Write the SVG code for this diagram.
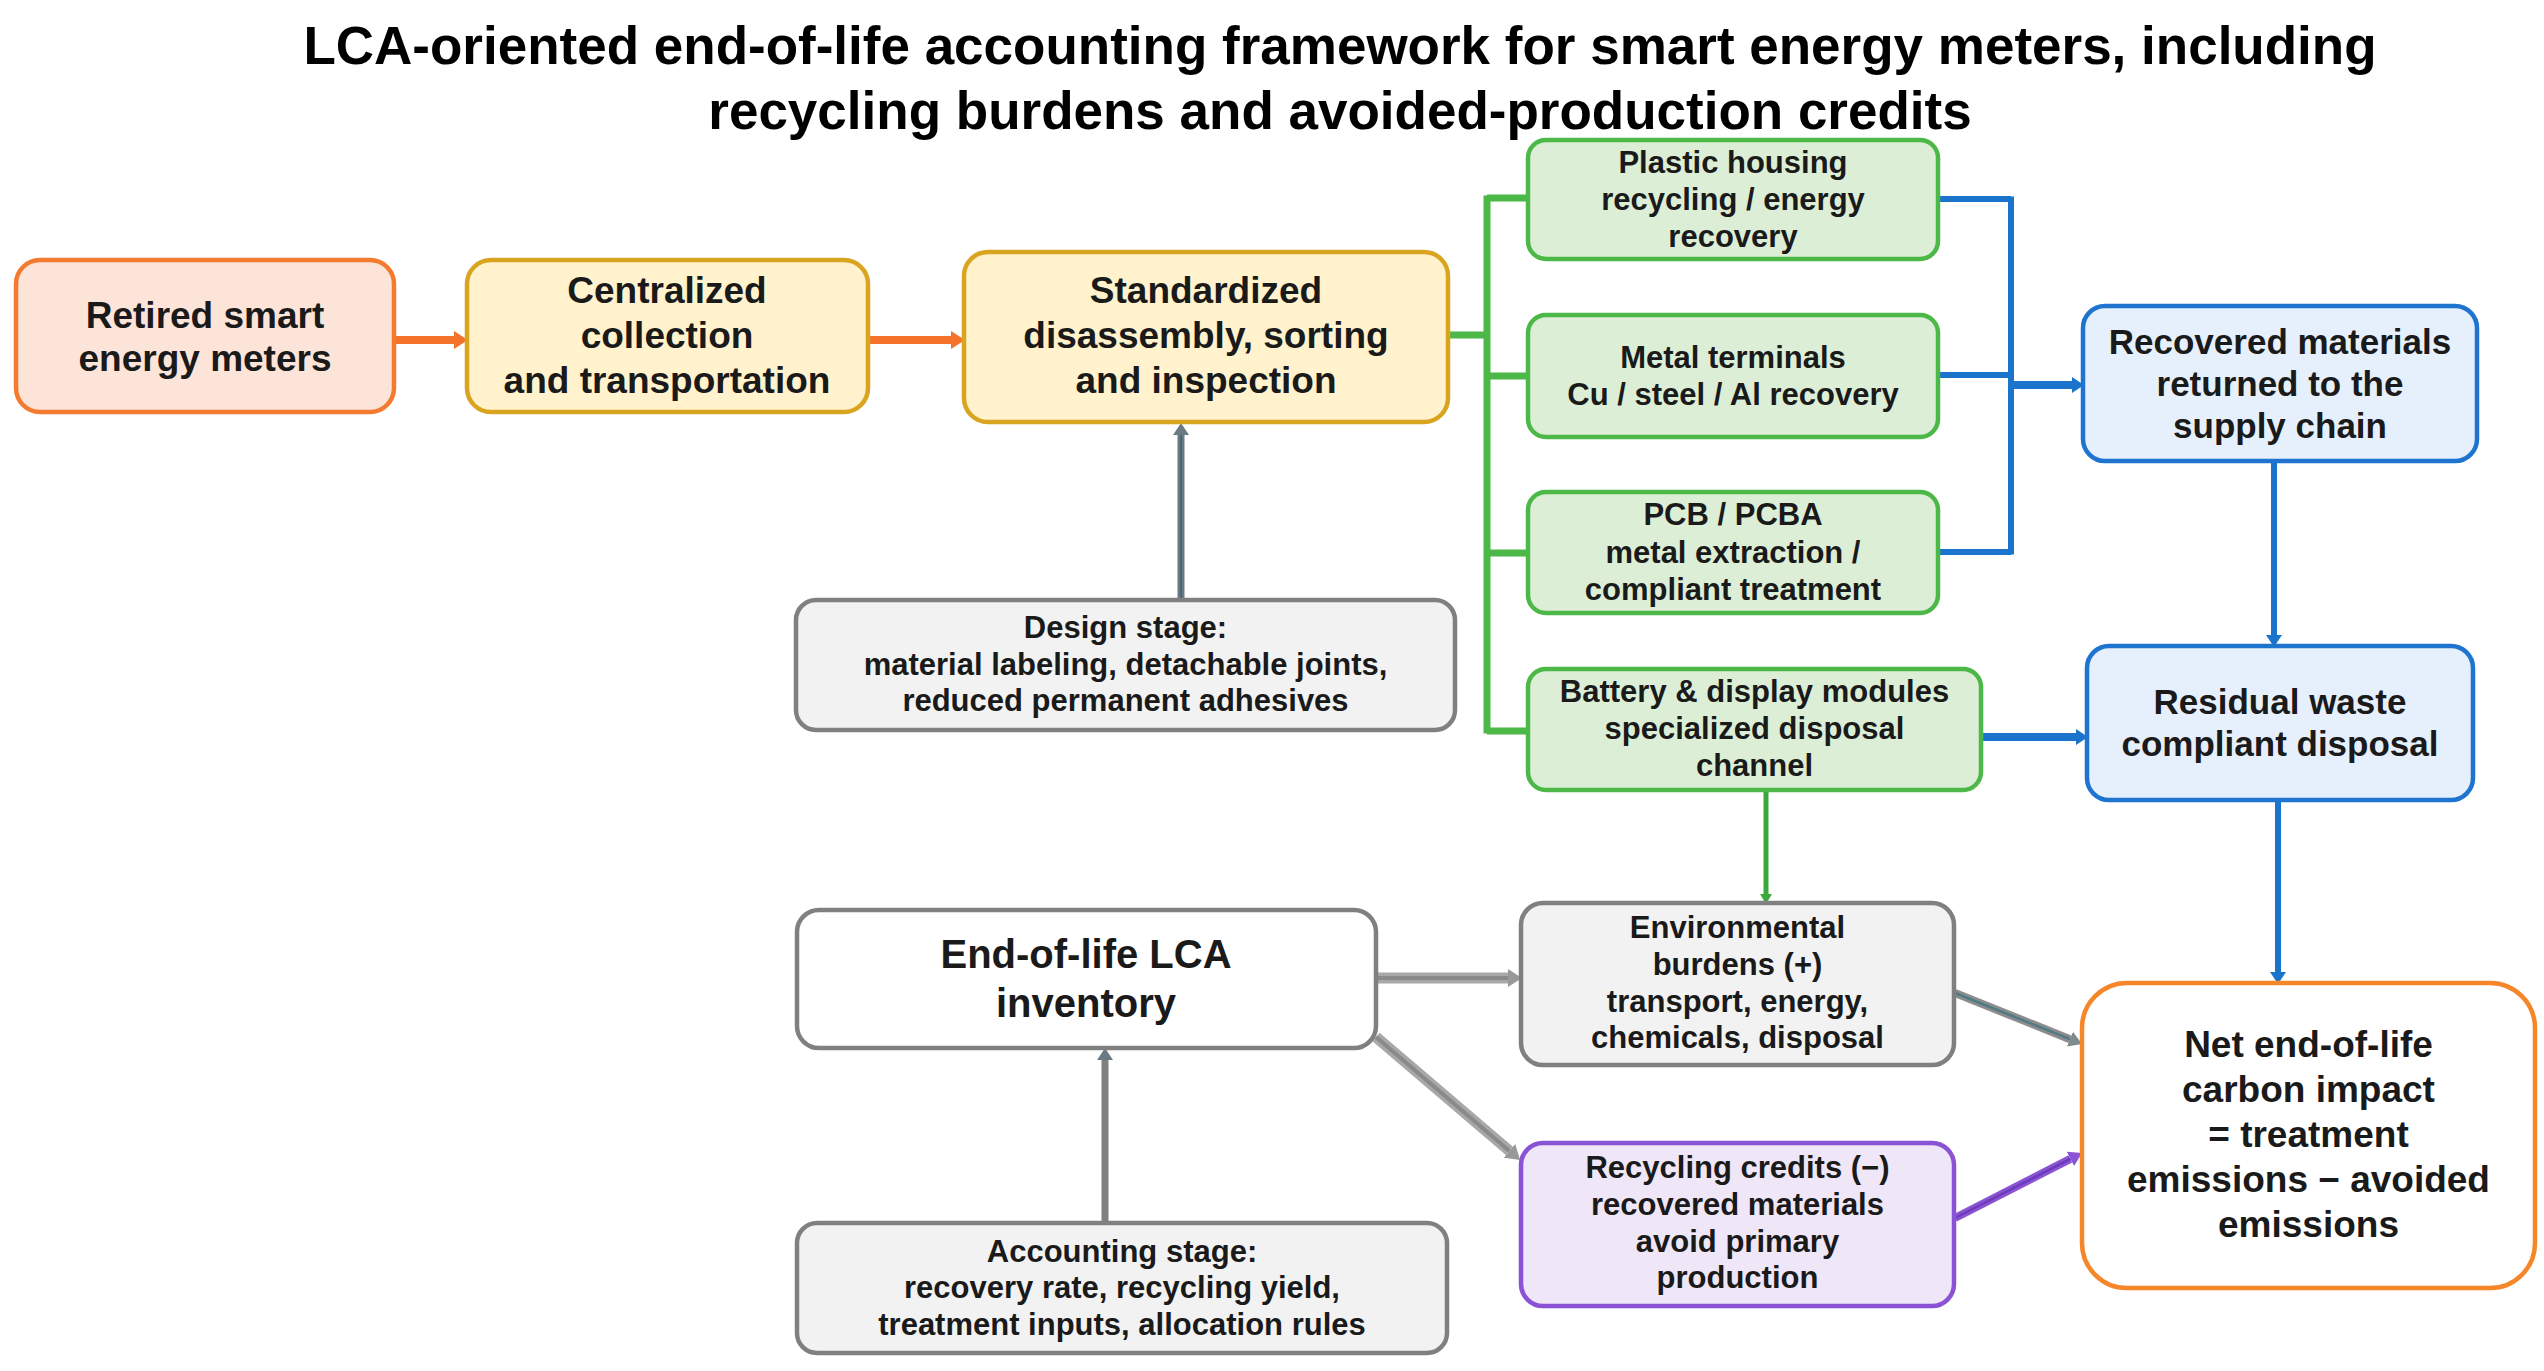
<svg xmlns="http://www.w3.org/2000/svg" width="2544" height="1371" viewBox="0 0 2544 1371">
<style>
text{font-family:"Liberation Sans",Arial,sans-serif;font-weight:bold;fill:#1a1a1a;text-anchor:middle}
.title{font-size:53px;fill:#000}
.t37{font-size:37px}
.t35{font-size:35px}
.t31{font-size:31px}
.t40{font-size:40px}
.box{stroke-width:4.5}
.orange{fill:#fde4d9;stroke:#f47a2f}
.yellow{fill:#fff2cc;stroke:#d9a520}
.green{fill:#dcefd6;stroke:#4cb848}
.blue{fill:#e6f0fc;stroke:#1f74d0}
.grey{fill:#f2f2f2;stroke:#808080}
.white{fill:#ffffff;stroke:#808080}
.purple{fill:#efe6f8;stroke:#8a52d4}
.net{fill:#ffffff;stroke:#f5862a}
.c{fill:none;stroke-linecap:butt;stroke-linejoin:miter}
</style>
<defs>
<marker id="mOr" markerUnits="userSpaceOnUse" markerWidth="14" markerHeight="18" refX="0" refY="9" orient="auto" viewBox="0 0 14 18"><path d="M0,0 L14,9 L0,18 z" fill="#f4732b"/></marker>
<marker id="mBl" markerUnits="userSpaceOnUse" markerWidth="12" markerHeight="16" refX="0" refY="8" orient="auto" viewBox="0 0 12 16"><path d="M0,0 L12,8 L0,16 z" fill="#1a74cc"/></marker>
<marker id="mGn" markerUnits="userSpaceOnUse" markerWidth="10" markerHeight="12" refX="0" refY="6" orient="auto" viewBox="0 0 10 12"><path d="M0,0 L10,6 L0,12 z" fill="#3aa83a"/></marker>
<marker id="mSl" markerUnits="userSpaceOnUse" markerWidth="12" markerHeight="16" refX="0" refY="8" orient="auto" viewBox="0 0 12 16"><path d="M0,0 L12,8 L0,16 z" fill="#6a7a84"/></marker>
<marker id="mGr" markerUnits="userSpaceOnUse" markerWidth="14" markerHeight="18" refX="0" refY="9" orient="auto" viewBox="0 0 14 18"><path d="M0,0 L14,9 L0,18 z" fill="#999999"/></marker>
<marker id="mGt" markerUnits="userSpaceOnUse" markerWidth="13" markerHeight="16" refX="0" refY="8" orient="auto" viewBox="0 0 13 16"><path d="M0,0 L13,8 L0,16 z" fill="#7d8a8e"/></marker>
<marker id="mPu" markerUnits="userSpaceOnUse" markerWidth="13" markerHeight="16" refX="0" refY="8" orient="auto" viewBox="0 0 13 16"><path d="M0,0 L13,8 L0,16 z" fill="#8a52d4"/></marker>
</defs>
<rect width="2544" height="1371" fill="#ffffff"/>

<g id="title">
<text class="title" x="1340" y="64">LCA-oriented end-of-life accounting framework for smart energy meters, including</text>
<text class="title" x="1340" y="129">recycling burdens and avoided-production credits</text>
</g>

<g id="connectors">
<line class="c" x1="394" y1="340" x2="454" y2="340" stroke="#f4732b" stroke-width="8" marker-end="url(#mOr)"/>
<line class="c" x1="868" y1="340" x2="951" y2="340" stroke="#f4732b" stroke-width="8" marker-end="url(#mOr)"/>
<line class="c" x1="1181" y1="600" x2="1181" y2="435" stroke="#6a7a84" stroke-width="7" marker-end="url(#mSl)"/>
<line class="c" x1="1181" y1="600" x2="1181" y2="435" stroke="#4f6570" stroke-width="2"/>
<path class="c" d="M1448,335 H1487 M1487,195.5 V733.5 M1487,198 H1528 M1487,376 H1528 M1487,553 H1528 M1487,731 H1528" stroke="#4cb848" stroke-width="7"/>
<line class="c" x1="1766" y1="790" x2="1766" y2="894" stroke="#3aa83a" stroke-width="5" marker-end="url(#mGn)"/>
<path class="c" d="M1938,199 H2011 M2011,196.5 V554.5 M1938,375 H2011 M1938,552 H2011" stroke="#1a74cc" stroke-width="6"/>
<line class="c" x1="2008" y1="385" x2="2072" y2="385" stroke="#1a74cc" stroke-width="8" marker-end="url(#mBl)"/>
<line class="c" x1="2274" y1="461" x2="2274" y2="635" stroke="#1a74cc" stroke-width="6" marker-end="url(#mBl)"/>
<line class="c" x1="1981" y1="737" x2="2076" y2="737" stroke="#1a74cc" stroke-width="8" marker-end="url(#mBl)"/>
<line class="c" x1="2278" y1="800" x2="2278" y2="972" stroke="#1a74cc" stroke-width="6" marker-end="url(#mBl)"/>
<line class="c" x1="1105" y1="1223" x2="1105" y2="1060" stroke="#808080" stroke-width="7" marker-end="url(#mSl)"/>
<line class="c" x1="1376" y1="978" x2="1508" y2="978" stroke="#a8a8a8" stroke-width="11" marker-end="url(#mGr)"/>
<line class="c" x1="1376" y1="978" x2="1508" y2="978" stroke="#8a8a8a" stroke-width="4"/>
<line class="c" x1="1376" y1="1037" x2="1509.4" y2="1150.9" stroke="#a8a8a8" stroke-width="11" marker-end="url(#mGr)"/>
<line class="c" x1="1376" y1="1037" x2="1509.4" y2="1150.9" stroke="#8a8a8a" stroke-width="4"/>
<line class="c" x1="1955" y1="993" x2="2070" y2="1039.2" stroke="#8c8c8c" stroke-width="8" marker-end="url(#mGt)"/>
<line class="c" x1="1955" y1="993" x2="2070" y2="1039.2" stroke="#4f7a86" stroke-width="2.5"/>
<line class="c" x1="1955" y1="1218" x2="2070.4" y2="1158.9" stroke="#8a52d4" stroke-width="8" marker-end="url(#mPu)"/>
<line class="c" x1="1955" y1="1218" x2="2070.4" y2="1158.9" stroke="#6a3cb8" stroke-width="2.5"/>
</g>

<g id="retired">
<rect class="box orange" x="16" y="260" width="378" height="152" rx="24"/>
<text class="t37" x="205" y="328">Retired smart</text>
<text class="t37" x="205" y="371">energy meters</text>
</g>
<g id="centralized">
<rect class="box yellow" x="467" y="260" width="401" height="152" rx="24"/>
<text class="t37" x="667" y="303">Centralized</text>
<text class="t37" x="667" y="348">collection</text>
<text class="t37" x="667" y="393">and transportation</text>
</g>
<g id="standardized">
<rect class="box yellow" x="964" y="252" width="484" height="170" rx="24"/>
<text class="t37" x="1206" y="303">Standardized</text>
<text class="t37" x="1206" y="348">disassembly, sorting</text>
<text class="t37" x="1206" y="393">and inspection</text>
</g>
<g id="plastic">
<rect class="box green" x="1528" y="140" width="410" height="119" rx="18"/>
<text class="t31" x="1733" y="173">Plastic housing</text>
<text class="t31" x="1733" y="210">recycling / energy</text>
<text class="t31" x="1733" y="247">recovery</text>
</g>
<g id="metal">
<rect class="box green" x="1528" y="315" width="410" height="122" rx="18"/>
<text class="t31" x="1733" y="368">Metal terminals</text>
<text class="t31" x="1733" y="405">Cu / steel / Al recovery</text>
</g>
<g id="pcb">
<rect class="box green" x="1528" y="492" width="410" height="121" rx="18"/>
<text class="t31" x="1733" y="525">PCB / PCBA</text>
<text class="t31" x="1733" y="563">metal extraction /</text>
<text class="t31" x="1733" y="600">compliant treatment</text>
</g>
<g id="battery">
<rect class="box green" x="1528" y="669" width="453" height="121" rx="18"/>
<text class="t31" x="1754.5" y="702">Battery &amp; display modules</text>
<text class="t31" x="1754.5" y="739">specialized disposal</text>
<text class="t31" x="1754.5" y="776">channel</text>
</g>
<g id="recovered">
<rect class="box blue" x="2083" y="306" width="394" height="155" rx="22"/>
<text class="t35" x="2280" y="354">Recovered materials</text>
<text class="t35" x="2280" y="396">returned to the</text>
<text class="t35" x="2280" y="438">supply chain</text>
</g>
<g id="residual">
<rect class="box blue" x="2087" y="646" width="386" height="154" rx="22"/>
<text class="t35" x="2280" y="714">Residual waste</text>
<text class="t35" x="2280" y="756">compliant disposal</text>
</g>
<g id="design">
<rect class="box grey" x="796" y="600" width="659" height="130" rx="20"/>
<text class="t31" x="1125.5" y="638">Design stage:</text>
<text class="t31" x="1125.5" y="675">material labeling, detachable joints,</text>
<text class="t31" x="1125.5" y="711">reduced permanent adhesives</text>
</g>
<g id="lca-inventory">
<rect class="box white" x="797" y="910" width="579" height="138" rx="22"/>
<text class="t40" x="1086" y="968">End-of-life LCA</text>
<text class="t40" x="1086" y="1017">inventory</text>
</g>
<g id="burdens">
<rect class="box grey" x="1521" y="903" width="433" height="162" rx="22"/>
<text class="t31" x="1737.5" y="938">Environmental</text>
<text class="t31" x="1737.5" y="975">burdens (+)</text>
<text class="t31" x="1737.5" y="1012">transport, energy,</text>
<text class="t31" x="1737.5" y="1048">chemicals, disposal</text>
</g>
<g id="credits">
<rect class="box purple" x="1521" y="1143" width="433" height="163" rx="22"/>
<text class="t31" x="1737.5" y="1178">Recycling credits (−)</text>
<text class="t31" x="1737.5" y="1215">recovered materials</text>
<text class="t31" x="1737.5" y="1252">avoid primary</text>
<text class="t31" x="1737.5" y="1288">production</text>
</g>
<g id="accounting">
<rect class="box grey" x="797" y="1223" width="650" height="130" rx="20"/>
<text class="t31" x="1122" y="1262">Accounting stage:</text>
<text class="t31" x="1122" y="1298">recovery rate, recycling yield,</text>
<text class="t31" x="1122" y="1335">treatment inputs, allocation rules</text>
</g>
<g id="net">
<rect class="box net" x="2082" y="983" width="453" height="305" rx="45"/>
<text class="t37" x="2308.5" y="1057">Net end-of-life</text>
<text class="t37" x="2308.5" y="1102">carbon impact</text>
<text class="t37" x="2308.5" y="1147">= treatment</text>
<text class="t37" x="2308.5" y="1192">emissions − avoided</text>
<text class="t37" x="2308.5" y="1237">emissions</text>
</g>
</svg>
